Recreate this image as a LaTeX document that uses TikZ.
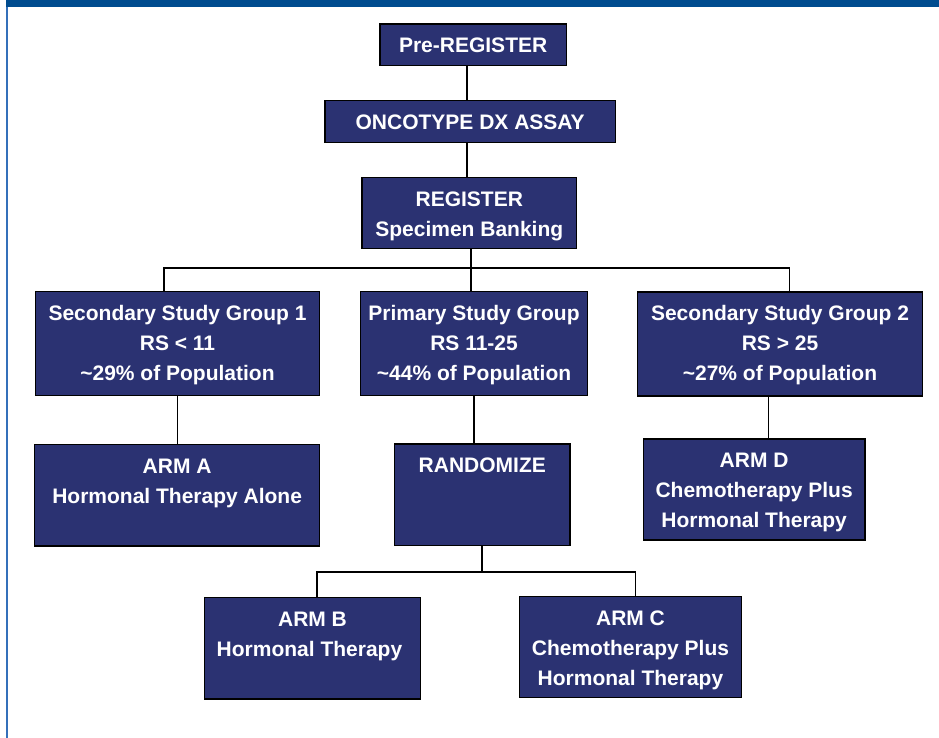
\documentclass[tikz,border=0pt]{standalone}
\usepackage{fontspec}
\setmainfont{Liberation Sans}
\usepackage{xcolor}

\definecolor{boxblue}{RGB}{43,50,114}
\definecolor{barblue}{RGB}{0,76,143}
\definecolor{edgeblue}{RGB}{52,112,186}

% text of a box: width, height, lines (first baseline 29pt below the top)
\newcommand\boxtext[3]{\parbox[c][#2pt][t]{#1pt}{\centering\rule{0pt}{29pt}#3}}

\tikzset{
    stagebox/.style={draw=black, line width=1.3pt, fill=boxblue, text=white,
        inner sep=0pt, anchor=north west,
        font=\fontsize{21}{30}\selectfont\bfseries},
    link/.style={draw=black, line width=1.8pt}
}

\begin{document}
\begin{tikzpicture}[x=1pt,y=-1pt]
    \useasboundingbox (0,0) rectangle (939,738);
    \fill[barblue] (6,0) rectangle (939,7);
    \draw[edgeblue, line width=1.6pt] (6.8,7) -- (6.8,738);

    \node[stagebox] (pre)  at (379.3,23.3)  {\boxtext{186.4}{41.7}{Pre-REGISTER}};
    \node[stagebox] (onco) at (324.3,100)   {\boxtext{290.4}{41.7}{ONCOTYPE DX ASSAY}};
    \node[stagebox] (reg)  at (361.3,176.7) {\boxtext{214.7}{71}{REGISTER\\Specimen Banking}};
    \node[stagebox] (sec1) at (34.7,290.7)  {\boxtext{284.3}{104.3}{Secondary Study Group 1\\RS < 11\\\textasciitilde29\% of Population}};
    \node[stagebox] (prim) at (359.8,290.7) {\boxtext{227.2}{104.3}{Primary Study Group\\RS 11-25\\\textasciitilde44\% of Population}};
    \node[stagebox] (sec2) at (636.7,291.3) {\boxtext{285.3}{104}{Secondary Study Group 2\\RS > 25\\\textasciitilde27\% of Population}};
    \node[stagebox] (armA) at (34,444)      {\boxtext{285}{101.3}{ARM A\\Hormonal Therapy Alone}};
    \node[stagebox] (rand) at (394,443.3)   {\boxtext{175.3}{101.7}{RANDOMIZE}};
    \node[stagebox] (armD) at (642.7,438.3) {\boxtext{221.6}{101}{ARM D\\Chemotherapy Plus\\Hormonal Therapy}};
    \node[stagebox] (armB) at (203.7,597)   {\boxtext{216.3}{101.3}{ARM B\\Hormonal Therapy\hspace*{6pt}}};
    \node[stagebox] (armC) at (519,595.7)   {\boxtext{221.7}{101}{ARM C\\Chemotherapy Plus\\Hormonal Therapy}};

    \coordinate (busL) at (164,268);
    \coordinate (busR) at (789.5,268);
    \coordinate (splitL) at (317,572.3);
    \coordinate (splitR) at (635.5,572.3);

    \draw[link] ([xshift=-6.5pt]pre.south) -- ([xshift=-6.5pt]pre.south |- onco.north);
    \draw[link] ([xshift=-3pt]onco.south) -- ([xshift=-3pt]onco.south |- reg.north);
    \draw[link] ([xshift=2pt]reg.south) -- ([xshift=2pt]reg.south |- prim.north);
    \draw[link] (busL |- sec1.north) |- (busR) -- (busR |- sec2.north);
    \draw[link] (sec1.south) -- (sec1.south |- armA.north);
    \draw[link] (prim.south) -- (prim.south |- rand.north);
    \draw[link] ([xshift=-11.5pt]sec2.south) -- ([xshift=-11.5pt]sec2.south |- armD.north);
    \draw[link] (rand.south) -- (rand.south |- splitL);
    \draw[link] (splitL |- armB.north) |- (splitR) -- (splitR |- armC.north);
\end{tikzpicture}
\end{document}
